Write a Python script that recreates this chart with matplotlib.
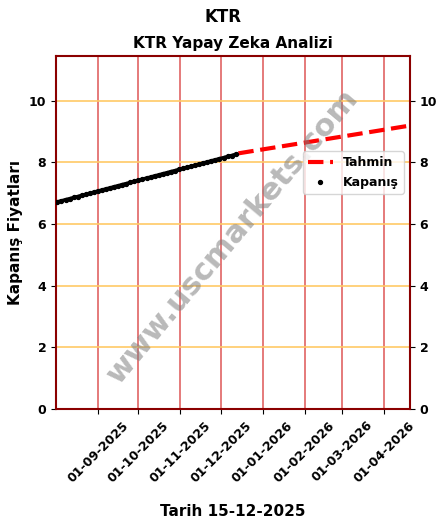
import matplotlib
matplotlib.use("Agg")
import matplotlib.pyplot as plt
import matplotlib.dates as mdates
import pandas as pd

close_start = "2025-08-02"
close_step_days = 3
close_values = [6.72, 6.75, 6.79, 6.82, 6.86, 6.89, 6.93, 6.96, 7.00, 7.03, 7.07,
                7.10, 7.14, 7.17, 7.21, 7.24, 7.28, 7.31, 7.35, 7.38, 7.42,
                7.45, 7.49, 7.52, 7.56, 7.59, 7.63, 7.66, 7.70, 7.73, 7.77,
                7.80, 7.84, 7.87, 7.91, 7.94, 7.98, 8.01, 8.05, 8.08, 8.12,
                8.15, 8.19, 8.22, 8.26]
forecast_dates = ["2025-12-14", "2026-04-20"]
forecast_values = [8.29, 9.19]
tick_dates = ["2025-09-01", "2025-10-01", "2025-11-01", "2025-12-01",
              "2026-01-01", "2026-02-01", "2026-03-01", "2026-04-01"]
yticks = [0, 2, 4, 6, 8, 10]

close_dates = pd.date_range(close_start, periods=len(close_values), freq=f"{close_step_days}D")
fc_dates = pd.to_datetime(forecast_dates)
ticks = pd.to_datetime(tick_dates)

fig = plt.figure(figsize=(4.45, 5.32), dpi=100)
ax = fig.add_axes([0.126, 0.231, 0.795, 0.664])
fig.suptitle("KTR", fontsize=12, fontweight="bold", y=0.985)
ax.set_title("KTR Yapay Zeka Analizi", fontsize=11, fontweight="bold")

for t in ticks:
    ax.axvline(t, color="#e06060", lw=1.3, alpha=0.9, zorder=0)
for y in yticks:
    ax.axhline(y, color="#ffc966", lw=1.2, zorder=0)

ax.plot(fc_dates, forecast_values, "--", color="red", lw=3, label="Tahmin")
ax.plot(close_dates, close_values, "-", color="black", lw=2.5, zorder=3)
ax.scatter(close_dates, close_values, s=8, color="black", label="Kapanış", zorder=3)

ax.set_xlim(pd.Timestamp("2025-08-01"), pd.Timestamp("2026-04-20"))
ax.set_ylim(0, 11.45)
ax.set_xticks(ticks)
ax.xaxis.set_major_formatter(mdates.DateFormatter("%d-%m-%Y"))
ax.set_yticks(yticks)
ax.tick_params(axis="y", labelright=True, right=True, labelsize=9)
ax.tick_params(axis="x", labelsize=9)
for lab in ax.get_xticklabels():
    lab.set_rotation(45); lab.set_ha("center"); lab.set_fontweight("bold")
for t in ax.yaxis.get_major_ticks():
    t.label1.set_fontweight("bold")
    t.label2.set_fontweight("bold")
for s in ax.spines.values():
    s.set_color("darkred"); s.set_linewidth(1.5)

ax.set_xlabel("Tarih 15-12-2025", fontsize=11, fontweight="bold", labelpad=14)
ax.set_ylabel("Kapanış Fiyatları", fontsize=11, fontweight="bold")
ax.legend(loc="center right", bbox_to_anchor=(1.0, 0.67), prop={"weight": "bold", "size": 9})

ax.text(0.5, 0.49, "www.uscmarkets.com", transform=ax.transAxes, fontsize=22,
        fontweight="bold", color="gray", alpha=0.55, rotation=50,
        ha="center", va="center")

fig.savefig("out.png", dpi=100)
